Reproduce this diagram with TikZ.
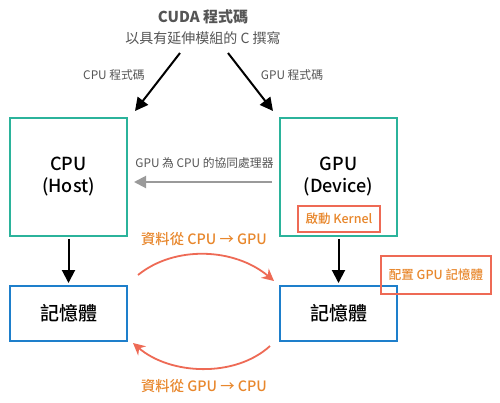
\documentclass[tikz,border=0pt]{standalone}
\usepackage{fontspec}
\setmainfont{Noto Sans CJK TC}
\newfontfamily\medfont{Noto Sans CJK TC}[UprightFont={* Medium}]
\usetikzlibrary{arrows.meta}
\definecolor{tealbox}{HTML}{2BB39B}
\definecolor{bluebox}{HTML}{1E7FCB}
\definecolor{redbox}{HTML}{EE6A55}
\definecolor{orangetxt}{HTML}{E8872C}
\definecolor{graytxt}{HTML}{555555}
\definecolor{grayarrow}{HTML}{9A9A9A}
\tikzset{
  hostbox/.style={draw=tealbox, line width=1.6pt, minimum width=117pt, minimum height=118pt, align=center, font=\medfont\fontsize{18}{22}\selectfont, inner sep=0pt},
  membox/.style={draw=bluebox, line width=1.6pt, minimum width=117pt, minimum height=55pt, font=\medfont\fontsize{19}{22}\selectfont, inner sep=0pt},
  notebox/.style={draw=redbox, line width=1.4pt, text=orangetxt, inner sep=0pt, font=\medfont\fontsize{12.5}{14}\selectfont},
  smalllbl/.style={text=graytxt, font=\fontsize{11.8}{13}\selectfont, inner sep=0pt},
  datalbl/.style={text=orangetxt, font=\medfont\fontsize{14.3}{16}\selectfont, inner sep=0pt},
  blackarrow/.style={draw=black, line width=2pt, -{Triangle[width=13pt,length=13pt]}},
  grayarr/.style={draw=grayarrow, line width=2pt, -{Triangle[width=12pt,length=12pt]}},
  redarr/.style={draw=redbox, line width=1.8pt, -{Stealth[width=12pt,length=12pt]}}
}
\begin{document}
\begin{tikzpicture}[x=1pt,y=-1pt]
\useasboundingbox[fill=white] (0,0) rectangle (500,402);
% title
\node[text=graytxt, font=\fontsize{15}{17}\selectfont\bfseries, inner sep=0pt] (t1) at (203,17) {CUDA 程式碼};
\node[text=graytxt, font=\fontsize{14}{16}\selectfont, inner sep=0pt] (t2) at (203,38) {以具有延伸模組的 C 撰寫};
% boxes
\node[hostbox] (cpu) at (68.5,177) {CPU\\(Host)};
\node[hostbox] (gpu) at (338.5,177) {};
\node[align=center, font=\medfont\fontsize{18}{22}\selectfont, inner sep=0pt] (gputxt) at (338.5,177) {GPU\\(Device)};
\node[membox] (mem1) at (68.5,313.5) {記憶體};
\node[membox] (mem2) at (338.5,313.5) {記憶體};
\node[notebox, minimum width=82pt, minimum height=26pt] (kern) at (339,219) {啟動 Kernel};
\node[notebox, minimum width=110pt, minimum height=38pt] (alloc) at (436,275) {配置 GPU 記憶體};
% code arrows
\coordinate (s1) at (180,53);
\coordinate (e1) at (135,111);
\coordinate (s2) at (228,53);
\coordinate (e2) at (273,111);
\draw[blackarrow] (s1) -- (e1);
\draw[blackarrow] (s2) -- (e2);
\node[smalllbl] (l1) at (114,75) {CPU 程式碼};
\node[smalllbl] (l2) at (292,75) {GPU 程式碼};
% coprocessor arrow
\coordinate (g1) at (272,182);
\coordinate (g2) at (134,182);
\draw[grayarr] (g1) -- (g2);
\node[smalllbl] (l3) at (204.5,163) {GPU 為 CPU 的協同處理器};
% down arrows
\draw[blackarrow] (cpu.south) ++(0,2) coordinate (d1s) -- (68.5,283) coordinate (d1e);
\draw[blackarrow] (gpu.south) ++(0,2) coordinate (d2s) -- (338.5,283) coordinate (d2e);
% data arcs
\coordinate (a1) at (138,275);
\coordinate (a2) at (274,281);
\coordinate (b1) at (270,346);
\coordinate (b2) at (133,343);
\draw[redarr] (a1) .. controls (175,245) and (235,248) .. (a2);
\draw[redarr] (b1) .. controls (235,378) and (170,375) .. (b2);
\node[datalbl] (l4) at (204,239) {資料從 CPU → GPU};
\node[datalbl] (l5) at (204,386) {資料從 GPU → CPU};
\end{tikzpicture}
\end{document}
